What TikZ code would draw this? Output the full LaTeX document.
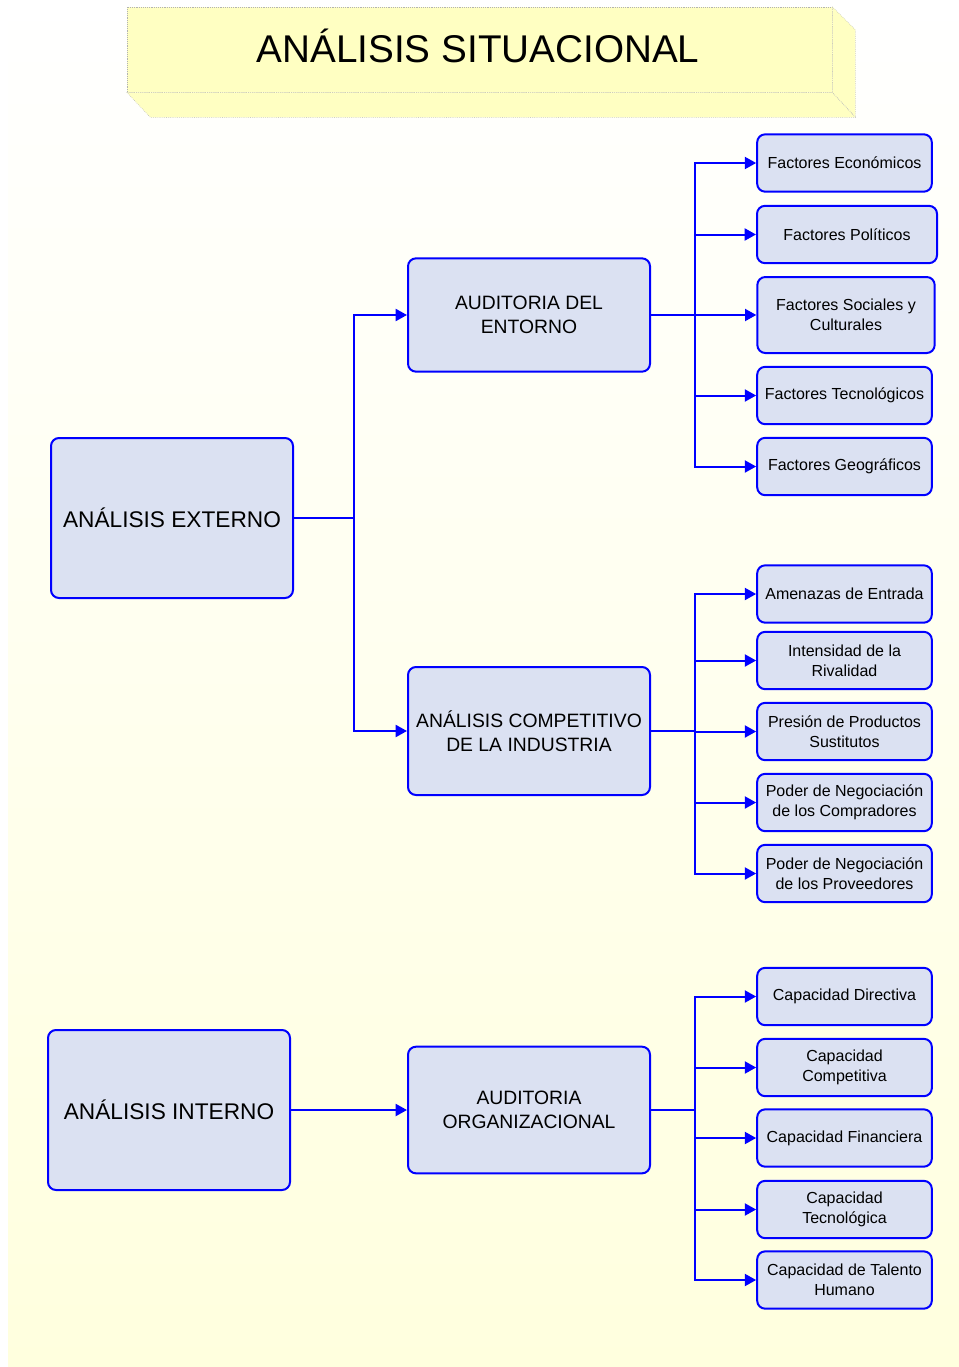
\documentclass[tikz,border=0pt]{standalone}
\usepackage{fontspec}
\setmainfont{Liberation Sans}
\usetikzlibrary{arrows.meta,calc}
\definecolor{boxfill}{RGB}{219,225,242}
\definecolor{boxline}{RGB}{0,0,255}
\definecolor{titlefill}{RGB}{255,255,194}
\definecolor{bgbottom}{RGB}{255,255,222}
\tikzset{
  basebox/.style={draw=boxline, fill=boxfill, line width=1.5pt, rounded corners=6pt,
    inner sep=0pt, align=center, text=black},
  bigbox/.style={basebox, minimum width=181.5pt, minimum height=120pt, font=\fontsize{17}{20}\selectfont},
  midbox/.style={basebox, minimum width=181.5pt, minimum height=85pt, font=\fontsize{14.5}{18}\selectfont},
  leafbox/.style={basebox, minimum width=131pt, minimum height=43pt, font=\fontsize{12}{15}\selectfont},
  wire/.style={draw=boxline, line width=1.5pt},
  arr/.style={wire, -{Triangle[length=8.5pt,width=9pt]}},
}
\begin{document}
\begin{tikzpicture}[x=0.75pt,y=-0.75pt]
\useasboundingbox (0,0) rectangle (959,1367);
\shade[top color=white, bottom color=bgbottom] (8,0) rectangle (959,1367);

% title block
\node[draw=gray!60, densely dotted, fill=titlefill, minimum width=528.75pt, minimum height=63.75pt,
  inner sep=0pt] (title) at (479.5,49.5) {};
\draw[draw=gray!60, densely dotted, fill=titlefill] (title.south west) -- (title.south east) -- ++(23,25) -- ++(-705,0) -- cycle;
\draw[draw=gray!60, densely dotted, fill=titlefill] (title.north east) -- ++(23,23) -- ++(0,87) -- (title.south east) -- cycle;
\node[inner sep=0pt, font=\fontsize{29}{34}\selectfont, anchor=base] (titletext) at (478,62) {ANÁLISIS SITUACIONAL};

% main boxes
\node[bigbox] (ext) at (172,518) {ANÁLISIS EXTERNO};
\node[bigbox] (int) at (169,1110) {ANÁLISIS INTERNO};
\node[midbox] (aud) at (529,315) {AUDITORIA DEL\\ENTORNO};
\node[midbox, minimum height=96pt] (comp) at (529,731) {ANÁLISIS COMPETITIVO\\DE LA INDUSTRIA};
\node[midbox, minimum height=95pt] (org) at (529,1110) {AUDITORIA\\ORGANIZACIONAL};

% leaves: external
\node[leafbox] (e1) at (844.5,163) {Factores Económicos};
\node[leafbox, minimum width=135pt] (e2) at (847,234.5) {Factores Políticos};
\node[leafbox, minimum width=133pt, minimum height=57pt] (e3) at (846,315) {Factores Sociales y\\Culturales};
\node[leafbox] (e4) at (844.5,395.5) {Factores Tecnológicos};
\node[leafbox] (e5) at (844.5,466.5) {Factores Geográficos};

% leaves: competitive
\node[leafbox] (c1) at (844.5,594) {Amenazas de Entrada};
\node[leafbox] (c2) at (844.5,660.5) {Intensidad de la\\Rivalidad};
\node[leafbox] (c3) at (844.5,731.5) {Presión de Productos\\Sustitutos};
\node[leafbox] (c4) at (844.5,802.5) {Poder de Negociación\\de los Compradores};
\node[leafbox] (c5) at (844.5,873.5) {Poder de Negociación\\de los Proveedores};

% leaves: internal
\node[leafbox] (i1) at (844.5,996.5) {Capacidad Directiva};
\node[leafbox] (i2) at (844.5,1067.5) {Capacidad\\Competitiva};
\node[leafbox] (i3) at (844.5,1138) {Capacidad Financiera};
\node[leafbox] (i4) at (844.5,1209.5) {Capacidad\\Tecnológica};
\node[leafbox] (i5) at (844.5,1280) {Capacidad de Talento\\Humano};

% connectors
\coordinate (bext) at (354,518);
\draw[wire] (ext.east) -- (bext);
\draw[arr] (bext) |- (aud.west);
\draw[arr] (bext) |- (comp.west);

\coordinate (baud) at (695,315);
\draw[wire] (aud.east) -- (baud);
\foreach \n in {e1,e2,e3,e4,e5} \draw[arr] (baud) |- (\n.west);

\coordinate (bcomp) at (695,731);
\draw[wire, line width=2.2pt] (comp.east) -- (bcomp);
\foreach \n in {c1,c2,c3,c4,c5} \draw[arr] (bcomp) |- (\n.west);

\draw[arr] (int.east) -- (org.west);
\coordinate (borg) at (695,1110);
\draw[wire] (org.east) -- (borg);
\foreach \n in {i1,i2,i3,i4,i5} \draw[arr] (borg) |- (\n.west);
\end{tikzpicture}
\end{document}
